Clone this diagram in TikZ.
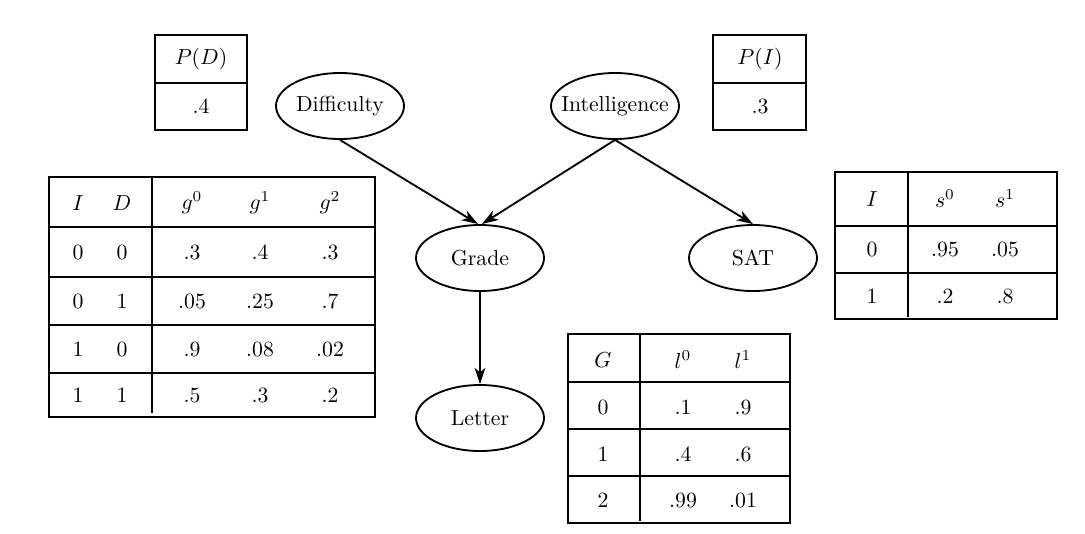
\documentclass[tikz,border=0pt]{standalone}
\usetikzlibrary{shapes.geometric,arrows.meta}
\begin{document}
\begin{tikzpicture}[x=0.46pt,y=-0.46pt,line width=0.85pt,
  var/.style={draw,ellipse,minimum width=128*0.46pt,minimum height=66*0.46pt,inner ysep=0pt,inner xsep=-4.3pt},
  edge/.style={-{Stealth[length=7.5pt,width=5pt,inset=2.2pt]}},
  cell/.style={inner sep=0pt,anchor=center}]
\useasboundingbox (0,0) rectangle (1085,533);
% nodes
\node[var] (D) at (340,106) {Difficulty};
\node[var] (I) at (615,106) {Intelligence};
\node[var] (G) at (480,258) {Grade};
\node[var] (S) at (753,258) {SAT};
\node[var] (L) at (480,418) {Letter};
\coordinate (Gl) at (478,224);
\coordinate (Gr) at (482,224);
\draw[edge] (D.south) -- (Gl);
\draw[edge] (I.south) -- (Gr);
\draw[edge] (I.south) -- (S.north);
\draw[edge] (G.south) -- (L.north);
% P(D)
\draw (155,35) rectangle (247,130);
\draw (155,83) -- (247,83);
\node[cell] (pdh) at (201,59) {$P(D)$};
\node[cell] (pdv) at (201,106) {$.4$};
% P(I)
\draw (713,35) rectangle (806,130);
\draw (713,83) -- (806,83);
\node[cell] (pih) at (760,59) {$P(I)$};
\node[cell] (piv) at (760,106) {$.3$};
% Grade CPD
\draw (49,177) rectangle (375,417);
\draw (49,227) -- (375,227);
\draw (49,277) -- (375,277);
\draw (49,325) -- (375,325);
\draw (49,373) -- (375,373);
\draw (152,177) -- (152,413);
\foreach \x/\t [count=\i] in {78/$I$,122/$D$,192/$g^{0}$,260/$g^{1}$,330/$g^{2}$}
  \node[cell] (gh\i) at (\x,203) {\t};
\foreach \y/\a/\b/\c/\d/\e [count=\j] in {252/0/0/.3/.4/.3, 301/0/1/.05/.25/.7, 349/1/0/.9/.08/.02, 395/1/1/.5/.3/.2}{
  \node[cell] (g\j a) at (78,\y) {$\a$};
  \node[cell] (g\j b) at (122,\y) {$\b$};
  \node[cell] (g\j c) at (192,\y) {$\c$};
  \node[cell] (g\j d) at (260,\y) {$\d$};
  \node[cell] (g\j e) at (330,\y) {$\e$};
}
% SAT CPD
\draw (835,172) rectangle (1057,319);
\draw (835,226) -- (1057,226);
\draw (835,273) -- (1057,273);
\draw (908,172) -- (908,317);
\node[cell] (sh1) at (872,199) {$I$};
\node[cell] (sh2) at (945,199) {$s^{0}$};
\node[cell] (sh3) at (1005,199) {$s^{1}$};
\foreach \y/\a/\b/\c [count=\j] in {249/0/.95/.05, 296/1/.2/.8}{
  \node[cell] (s\j a) at (872,\y) {$\a$};
  \node[cell] (s\j b) at (945,\y) {$\b$};
  \node[cell] (s\j c) at (1005,\y) {$\c$};
}
% Letter CPD
\draw (568,334) rectangle (790,523);
\draw (568,382) -- (790,382);
\draw (568,429) -- (790,429);
\draw (568,476) -- (790,476);
\draw (640,334) -- (640,521);
\node[cell] (lh1) at (603,360) {$G$};
\node[cell] (lh2) at (683,360) {$l^{0}$};
\node[cell] (lh3) at (743,360) {$l^{1}$};
\foreach \y/\a/\b/\c [count=\j] in {407/0/.1/.9, 454/1/.4/.6, 500/2/.99/.01}{
  \node[cell] (l\j a) at (603,\y) {$\a$};
  \node[cell] (l\j b) at (683,\y) {$\b$};
  \node[cell] (l\j c) at (743,\y) {$\c$};
}
\end{tikzpicture}
\end{document}
